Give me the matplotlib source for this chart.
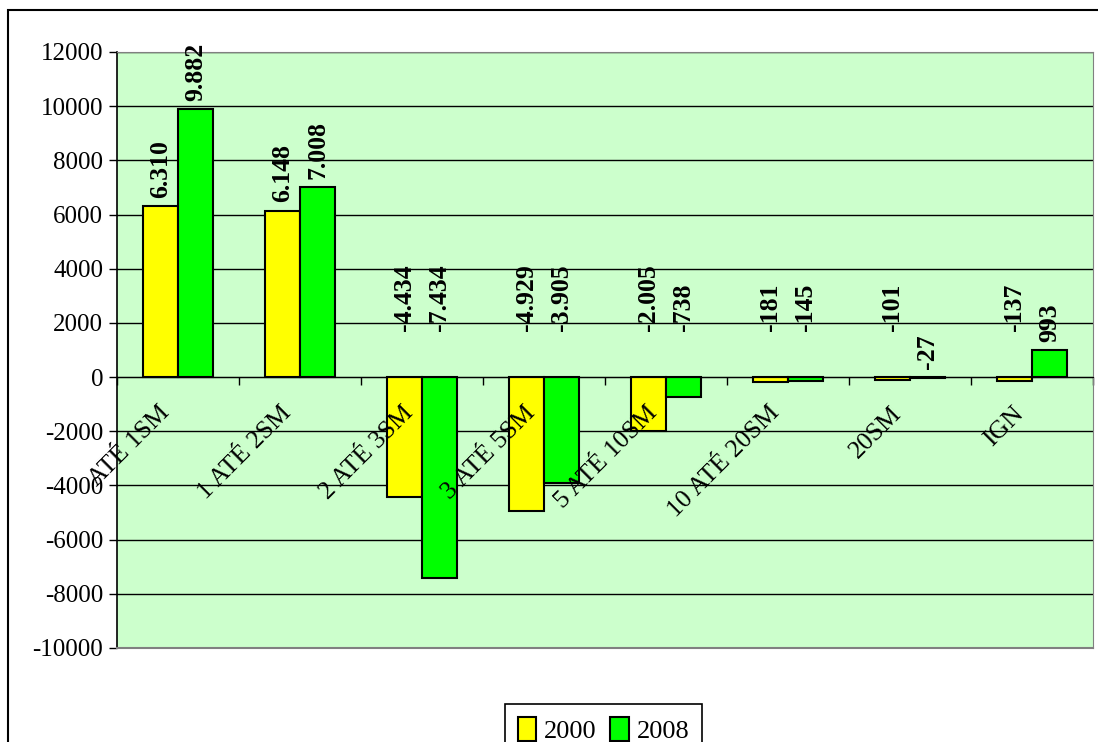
import matplotlib
matplotlib.use("Agg")
import matplotlib.pyplot as plt
from matplotlib.patches import Patch, Rectangle
import numpy as np

categories = ["ATÉ 1SM", "1 ATÉ 2SM", "2 ATÉ 3SM", "3 ATÉ 5SM",
              "5 ATÉ 10SM", "10 ATÉ 20SM", "20SM", "IGN"]
vals_2000 = [6310, 6148, -4434, -4929, -2005, -181, -101, -137]
vals_2008 = [9882, 7008, -7434, -3905, -738, -145, -27, 993]
series_names = ["2000", "2008"]

plt.rcParams['font.family'] = ['Liberation Serif', 'DejaVu Serif']
plt.rcParams['axes.unicode_minus'] = False

fig = plt.figure(figsize=(10.98, 7.42), dpi=100)
ax = fig.add_axes([117/1098, 1 - 648/742, (1093-117)/1098, (648-52)/742])
ax.set_facecolor("#CCFFCC")

x = np.arange(len(categories))
w = 0.287
colors = ["#FFFF00", "#00FF00"]
for k, vals in enumerate([vals_2000, vals_2008]):
    xs = x + (k - 0.5) * w
    ax.bar(xs, vals, w, color=colors[k], edgecolor="black", linewidth=1.5,
           zorder=3)
    for xi, v in zip(xs, vals):
        txt = f"{v:,}".replace(",", ".")
        if v > -50:
            ax.annotate(txt, (xi, max(v, 0)), xytext=(0, 6),
                        textcoords="offset points", rotation=90,
                        ha="center", va="bottom", fontsize=18.5,
                        fontweight="bold", zorder=6)
        else:
            ax.text(xi, 1700, txt, rotation=90, ha="center", va="bottom",
                    fontsize=18.5, fontweight="bold", zorder=6)

# category names drawn over the bars, hanging from the zero line
for xi, name in zip(x, categories):
    ax.annotate(name, (xi, 0), xytext=(-3, -18), textcoords="offset points",
                rotation=45, ha="right", va="top", fontsize=18.5, zorder=7)

ax.set_xlim(-0.5, len(categories) - 0.5)
ax.set_ylim(-10000, 12000)
ax.set_yticks(np.arange(-10000, 12001, 2000))
ax.yaxis.grid(True, color="black", linewidth=1.0)
ax.set_axisbelow(True)
ax.tick_params(axis="y", labelsize=18, length=6, width=1, direction="out",
               pad=4)

# category boundaries as ticks on the zero line
ax.spines["bottom"].set_position(("data", 0))
ax.spines["bottom"].set_zorder(5)
ax.set_xticks(np.arange(-0.5, len(categories) + 0.5, 1))
ax.set_xticklabels([])
ax.tick_params(axis="x", which="major", length=6, width=1, direction="out")

for s in ["top", "right"]:
    ax.spines[s].set_color("#808080")
ax.spines["left"].set_color("black")
ax.spines["left"].set_linewidth(1.2)
ax.plot([0, 1], [0, 0], transform=ax.transAxes, color="#808080",
        linewidth=1.5, clip_on=False, zorder=5)

handles = [Patch(facecolor=c, edgecolor="black", linewidth=1.5) for c in colors]
leg = fig.legend(handles, series_names, loc="upper center",
                 bbox_to_anchor=(603.5/1098, 1 - 691/742), ncol=2,
                 fontsize=19, frameon=True, fancybox=False, framealpha=1,
                 edgecolor="black", handlelength=0.7, handleheight=1.0,
                 handletextpad=0.3, columnspacing=0.5, borderpad=0.5)
leg.get_frame().set_linewidth(1.2)

fig.patches.append(Rectangle((8/1098, -0.1), 1.2, 1.1 - 10/742,
                             transform=fig.transFigure, fill=False,
                             edgecolor="black", linewidth=1.5))

fig.savefig("out.png", dpi=100)
